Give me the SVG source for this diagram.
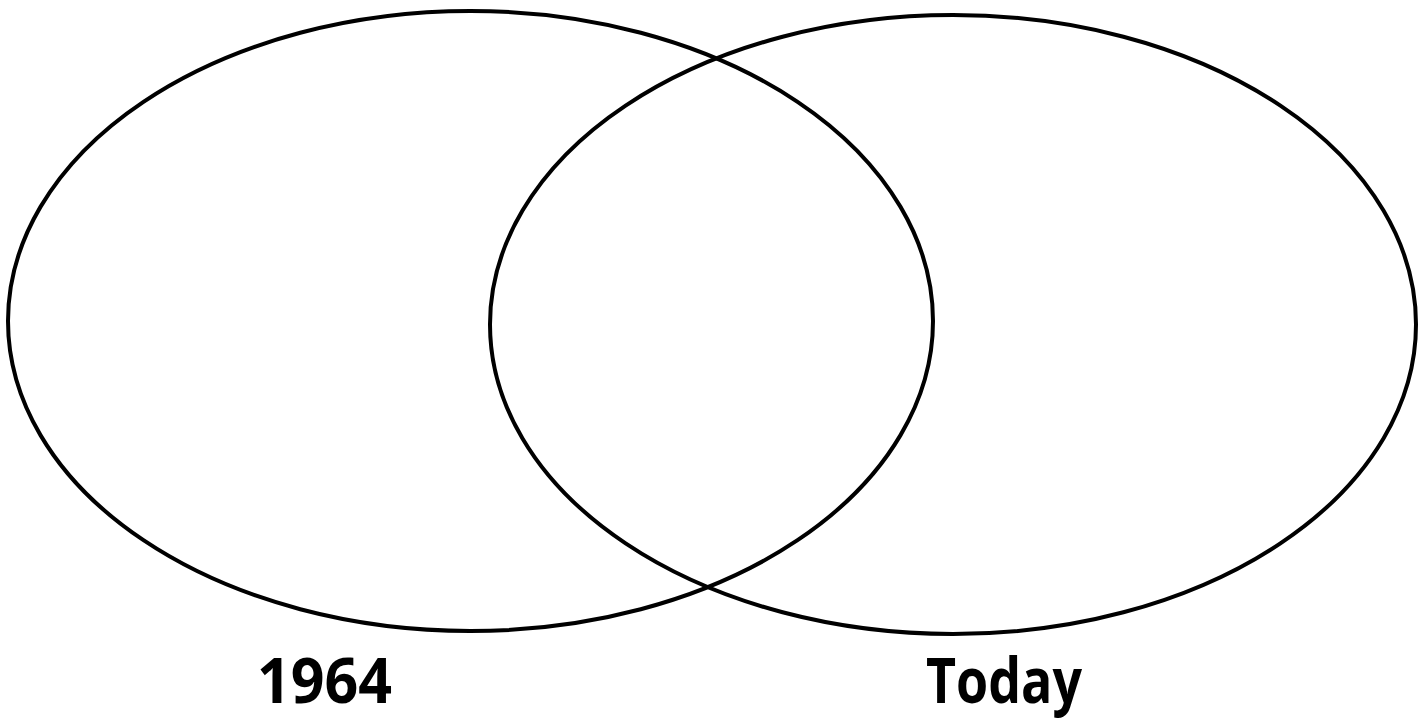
<svg xmlns="http://www.w3.org/2000/svg" width="1427" height="719" viewBox="0 0 1427 719">
<style>
.set{fill:none;stroke:#000;stroke-width:4}
.lbl{font-family:"Open Sans","Noto Sans",sans-serif;font-weight:bold;font-size:62px;fill:#000}
</style>
<rect width="1427" height="719" fill="#fff"/>
<g id="set-1964">
<ellipse class="set" cx="470.5" cy="321" rx="462.5" ry="310"/>
<text class="lbl" x="257" y="703" textLength="135" lengthAdjust="spacingAndGlyphs">1964</text>
</g>
<g id="set-today">
<ellipse class="set" cx="953" cy="324.5" rx="463" ry="309.5"/>
<text class="lbl" x="926" y="703" textLength="156" lengthAdjust="spacingAndGlyphs">Today</text>
</g>
<g id="connectors"></g>
</svg>
